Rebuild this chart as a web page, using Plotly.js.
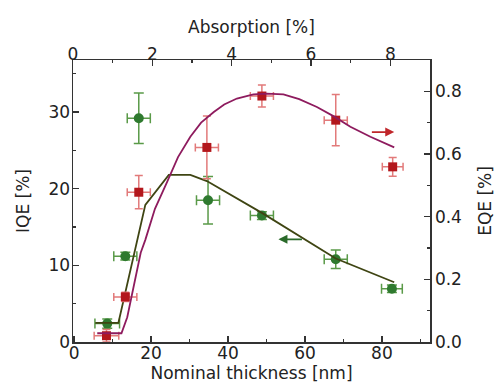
<!DOCTYPE html>
<html>
<head>
<meta charset="utf-8">
<script src="https://cdn.plot.ly/plotly-3.0.1.min.js"></script>
<style>html,body{margin:0;padding:0;background:#fff;}#chart{width:502px;height:390px;}</style>
</head>
<body>
<div id="chart"></div>
<script>
// Measured points (nominal thickness in nm)
var iqeThickness = [8.6, 13.3, 16.8, 34.8, 48.8, 68.0, 82.6];
var iqeValues    = [2.4, 11.2, 29.2, 18.5, 16.5, 10.8, 6.95];
var iqeErr       = [0.6, 0.5, 3.3, 3.1, 0.5, 1.2, 0.5];
var iqeThickErr  = [3.2, 3.0, 3.0, 3.0, 3.0, 3.0, 2.7];

var eqeThickness = [8.4, 13.3, 16.8, 34.5, 48.8, 68.0, 82.8];
var eqeValues    = [0.02, 0.144, 0.478, 0.621, 0.785, 0.708, 0.559];
var eqeErr       = [0.02, 0.015, 0.053, 0.10, 0.035, 0.082, 0.03];
var eqeThickErr  = [3.2, 3.0, 3.0, 3.0, 3.0, 3.0, 2.7];

// Model curves
var iqeCurveX = [5.5, 11.5, 18.5, 24.6, 30.2, 34.5, 48.8, 68.0, 83.2];
var iqeCurveY = [2.5, 2.5, 17.9, 21.8, 21.8, 21.0, 16.85, 10.9, 7.8];

var eqeCurveX = [6.0, 12.3, 13.8, 15.1, 17.3, 18.5, 21.0, 24.2, 27.0, 30.2, 33.0, 36.3, 39.0, 42.3, 46.6, 50.0, 54.4, 58.5, 63.1, 67.5, 71.8, 77.0, 83.2];
var eqeCurveY = [0.028, 0.028, 0.079, 0.157, 0.285, 0.326, 0.425, 0.512, 0.59, 0.655, 0.70, 0.734, 0.758, 0.777, 0.79, 0.793, 0.79, 0.775, 0.75, 0.72, 0.687, 0.655, 0.621];

// Top axis (absorption) – empty series so the axis is laid out
var absorptionAxis = [];

var green = '#2f7a2f', greenErr = '#5a9a48';
var red = '#b3171c', redErr = '#e27a7a';
var magenta = '#8e1b5e', olive = '#3f4513';
var axisColor = '#333';
var font = {family: 'DejaVu Sans, sans-serif', size: 17, color: '#222'};

var traces = [
  {x: absorptionAxis, y: absorptionAxis, xaxis: 'x2', yaxis: 'y', type: 'scatter', mode: 'markers', hoverinfo: 'skip'},
  {x: eqeThickness, y: eqeValues, xaxis: 'x', yaxis: 'y2', type: 'scatter', mode: 'markers',
   marker: {symbol: 'square', size: 9, color: red},
   error_y: {type: 'data', array: eqeErr, color: redErr, thickness: 1.5, width: 4},
   error_x: {type: 'data', array: eqeThickErr, color: redErr, thickness: 1.5, width: 4}},
  {x: iqeThickness, y: iqeValues, xaxis: 'x', yaxis: 'y', type: 'scatter', mode: 'markers',
   marker: {symbol: 'circle', size: 10, color: green},
   error_y: {type: 'data', array: iqeErr, color: greenErr, thickness: 1.5, width: 5},
   error_x: {type: 'data', array: iqeThickErr, color: greenErr, thickness: 1.5, width: 5}},
  {x: eqeCurveX, y: eqeCurveY, xaxis: 'x', yaxis: 'y2', type: 'scatter', mode: 'lines',
   line: {color: magenta, width: 1.8}},
  {x: iqeCurveX, y: iqeCurveY, xaxis: 'x', yaxis: 'y', type: 'scatter', mode: 'lines',
   line: {color: olive, width: 1.8}}
];

function ax(extra) {
  var base = {
    showline: true, linecolor: axisColor, linewidth: 1.5,
    ticks: 'inside', ticklen: 6, tickwidth: 1.5, tickcolor: axisColor,
    showgrid: false, zeroline: false, tickfont: font
  };
  for (var k in extra) base[k] = extra[k];
  return base;
}
function minor(d) {
  return {ticks: 'inside', ticklen: 3, tickwidth: 1.2, tickcolor: axisColor, dtick: d, showgrid: false};
}

var layout = {
  width: 502, height: 390,
  margin: {l: 73, r: 72, t: 60, b: 48},
  paper_bgcolor: '#fff', plot_bgcolor: '#fff',
  showlegend: false,
  font: font,
  xaxis: ax({range: [-0.3, 92.5], dtick: 20, tick0: 0, minor: minor(10), ticklabelstandoff: -5,
    title: {text: 'Nominal thickness [nm]', font: font, standoff: 2}, anchor: 'y'}),
  xaxis2: ax({range: [0, 9], dtick: 2, tick0: 0, minor: minor(1), ticklabelstandoff: -8,
    overlaying: 'x', side: 'top', anchor: 'y',
    title: {text: 'Absorption [%]', font: font, standoff: 6}}),
  yaxis: ax({range: [0, 36.8], dtick: 10, tick0: 0, minor: minor(5), ticklabelstandoff: -2,
    title: {text: 'IQE [%]', font: font, standoff: 14}, anchor: 'x'}),
  yaxis2: ax({range: [0, 0.9], dtick: 0.2, tick0: 0, tickformat: '.1f', minor: minor(0.1),
    overlaying: 'y', side: 'right', anchor: 'x',
    title: {text: 'EQE [%]', font: font, standoff: 18}}),
  annotations: [
    {xref: 'x', yref: 'y2', axref: 'x', ayref: 'y2', x: 83.2, y: 0.67, ax: 77.0, ay: 0.67,
     text: '', showarrow: true, arrowhead: 2, arrowsize: 1, arrowwidth: 1.8, arrowcolor: '#c0262a'},
    {xref: 'x', yref: 'y', axref: 'x', ayref: 'y', x: 53.1, y: 13.4, ax: 59.6, ay: 13.4,
     text: '', showarrow: true, arrowhead: 2, arrowsize: 1, arrowwidth: 1.8, arrowcolor: '#2a6a2a'}
  ]
};

Plotly.newPlot('chart', traces, layout, {displayModeBar: false, staticPlot: true});
</script>
</body>
</html>
